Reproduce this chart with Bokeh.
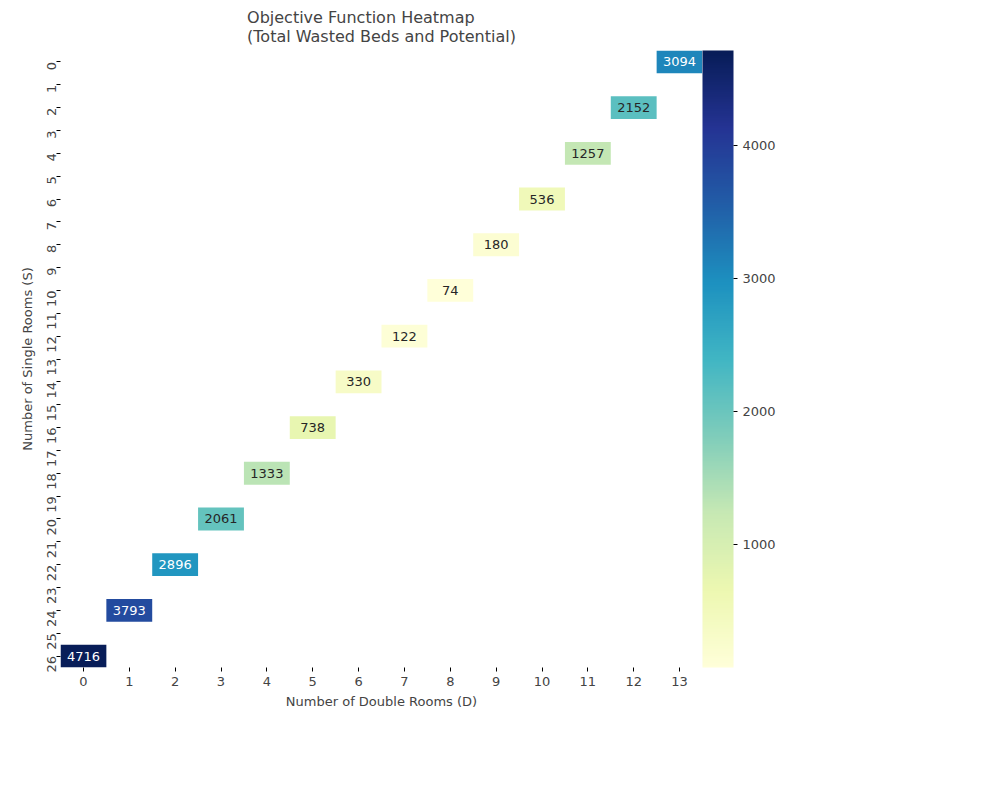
from bokeh.plotting import figure
from bokeh.models import ColumnDataSource, LinearColorMapper, ColorBar, FixedTicker
from bokeh.palettes import YlGnBu9, interp_palette
from bokeh.embed import file_html
from bokeh.resources import INLINE

doubles = [0, 1, 2, 3, 4, 5, 6, 7, 8, 9, 10, 11, 12, 13]
singles = [26, 24, 22, 20, 18, 16, 14, 12, 10, 8, 6, 4, 2, 0]
objective = [4716, 3793, 2896, 2061, 1333, 738, 330, 122, 74, 180, 536, 1257, 2152, 3094]

palette = list(interp_palette(list(reversed(YlGnBu9)), 256))
lo, hi = min(objective), max(objective)
mapper = LinearColorMapper(palette=palette, low=lo, high=hi)

src = ColumnDataSource(dict(
    d=doubles, s=singles, v=objective,
    label=[str(v) for v in objective],
    tc=["white" if v > 2500 else "#262626" for v in objective],
))

font = "DejaVu Sans"
p = figure(frame_width=642, frame_height=617, x_range=(-0.5, 13.5), y_range=(26.5, -0.5),
           output_backend="svg", toolbar_location=None,
           title="Objective Function Heatmap\n(Total Wasted Beds and Potential)",
           min_border_left=60, min_border_top=40, min_border_right=150)
p.title.align = "center"
p.title.text_font = font
p.title.text_font_size = "16px"
p.title.text_font_style = "normal"

p.rect("d", "s", width=1, height=1, source=src,
       fill_color={"field": "v", "transform": mapper}, line_color=None)
p.text("d", "s", text="label", source=src, text_color="tc", text_align="center",
       text_baseline="middle", text_font_size="13px", text_font={"value": font})

p.grid.visible = False
p.outline_line_color = None
p.xaxis.ticker = FixedTicker(ticks=list(range(14)))
p.yaxis.ticker = FixedTicker(ticks=list(range(27)))
p.yaxis.major_label_orientation = 1.5708
for ax in (p.xaxis, p.yaxis):
    ax.axis_line_color = None
    ax.minor_tick_line_color = None
    ax.major_tick_out = 4
    ax.major_tick_in = 0
    ax.major_label_text_font = font
    ax.major_label_text_font_size = "13px"
    ax.axis_label_text_font = font
    ax.axis_label_text_font_size = "13px"
    ax.axis_label_text_font_style = "normal"
p.xaxis.axis_label = "Number of Double Rooms (D)"
p.yaxis.axis_label = "Number of Single Rooms (S)"

cb = ColorBar(color_mapper=mapper, width=31, padding=0, margin=17,
              ticker=FixedTicker(ticks=[1000, 2000, 3000, 4000]),
              major_label_text_font=font, major_label_text_font_size="13px",
              major_tick_line_color="black", major_tick_out=4, major_tick_in=0,
              bar_line_color=None, border_line_color=None)
p.add_layout(cb, "right")

open("out.html", "w").write(file_html(p, INLINE))
